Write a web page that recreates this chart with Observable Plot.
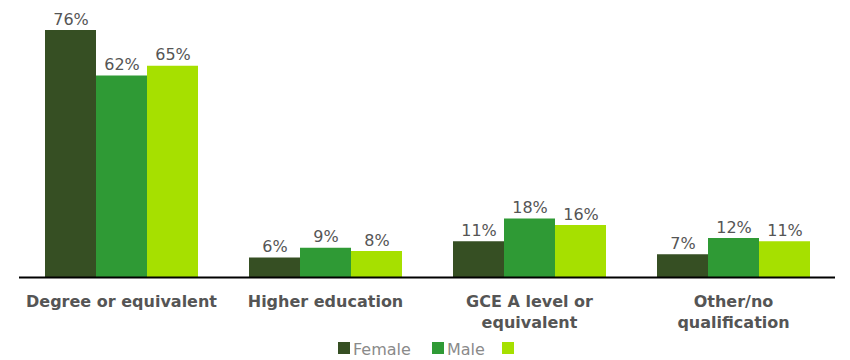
<!DOCTYPE html>
<html>
<head>
<meta charset="utf-8">
<script src="https://cdn.jsdelivr.net/npm/d3@7"></script>
<script src="https://cdn.jsdelivr.net/npm/@observablehq/plot@0.6"></script>
<style>
  html, body { margin: 0; padding: 0; background: #fff; overflow: hidden; }
  body { width: 850px; height: 360px; font-family: "DejaVu Sans", sans-serif; }
  #chart svg { display: block; }
  g[aria-label="fx-axis tick label"] text { font-weight: bold; }
  #legend { position: absolute; left: 0; top: 341px; width: 850px; height: 19px; }
  .sw { position: absolute; top: 1px; width: 12px; height: 12px; }
  .lab { position: absolute; top: 0px; font-size: 16px; color: #8a8a8a; white-space: nowrap; line-height: 18px; }
</style>
</head>
<body>
<div id="chart"></div>
<div id="legend"></div>
<script>
const categories = ["Degree or equivalent", "Higher education", "GCE A level or equivalent", "Other/no qualification"];
const tickLabels = ["Degree or equivalent", "Higher education", "GCE A level or\nequivalent", "Other/no\nqualification"];
const series = ["Female", "Male", "Third"];
const legendLabels = ["Female", "Male", ""];
const colors = ["#364f23", "#2f9a35", "#a6e000"];
const female = [76, 6, 11, 7];
const male = [62, 9, 18, 12];
const third = [65, 8, 16, 11];

const seriesValues = [female, male, third];
const data = [];
categories.forEach((c, i) => {
  series.forEach((s, j) => data.push({cat: c, series: s, value: seriesValues[j][i]}));
});

const chart = Plot.plot({
  width: 850,
  height: 335,
  marginLeft: 17,
  marginRight: 14,
  marginTop: 17,
  marginBottom: 58,
  style: {fontFamily: "'DejaVu Sans', sans-serif", color: "#555", background: "#fff"},
  fx: {domain: categories, padding: 0, label: null},
  x: {domain: series, paddingInner: 0, paddingOuter: 0.5, axis: null},
  y: {domain: [0, 80], axis: null},
  color: {domain: series, range: colors},
  marks: [
    Plot.barY(data, {fx: "cat", x: "series", y: "value", fill: "series"}),
    Plot.text(data, {fx: "cat", x: "series", y: "value", text: d => d.value + "%", dy: -6, lineAnchor: "bottom", fill: "#555", fontSize: 16}),
    Plot.ruleY([0], {stroke: "#000", strokeWidth: 2}),
    Plot.axisFx({anchor: "bottom", tickSize: 0, tickPadding: 15, label: null, fontSize: 16, fontWeight: "bold", lineHeight: 1.3,
      tickFormat: d => tickLabels[categories.indexOf(d)]})
  ]
});
document.getElementById("chart").appendChild(chart);

// legend
const legend = document.getElementById("legend");
const positions = [338, 432, 502];
series.forEach((s, i) => {
  const sw = document.createElement("div");
  sw.className = "sw";
  sw.style.left = positions[i] + "px";
  sw.style.background = colors[i];
  legend.appendChild(sw);
  if (legendLabels[i]) {
    const lab = document.createElement("div");
    lab.className = "lab";
    lab.style.left = (positions[i] + 15) + "px";
    lab.textContent = legendLabels[i];
    legend.appendChild(lab);
  }
});
</script>
</body>
</html>
